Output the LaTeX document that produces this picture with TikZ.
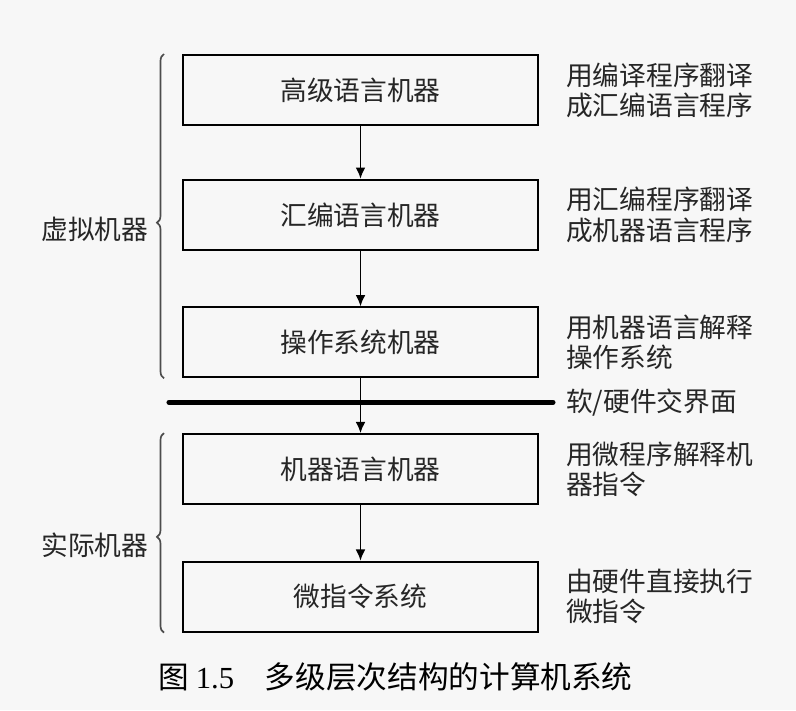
\documentclass[tikz,border=0pt]{standalone}
\usepackage{fontspec}
\newfontfamily\cjkfont{Noto Sans CJK SC}
\newfontfamily\numfont{Liberation Serif}
\usetikzlibrary{arrows.meta,positioning,calc,decorations.pathreplacing}

\begin{document}
\begin{tikzpicture}[
  font=\cjkfont\fontsize{19}{21.5}\selectfont,
  text=black!85,
  level/.style={draw=black, line width=1.4pt, minimum width=8.875cm, minimum height=1.75cm, inner sep=0pt},
  note/.style={align=left, inner sep=0pt},
  arrow/.style={-{Latex[length=8pt,width=7pt]}, line width=1.2pt},
  brace/.style={decorate, decoration={brace, amplitude=5pt, aspect=0.48}, line width=1.2pt, black!70},
  cutline/.style={line width=3.6pt, line cap=round},
]
  \fill[black!3] (0,0) rectangle (19.9,-17.75);
  \useasboundingbox (0,0) rectangle (19.9,-17.75);

  % levels
  \node[level] (hll) at (9.0125,-2.25) {高级语言机器};
  \node[level, below=1.32cm of hll] (asm) {汇编语言机器};
  \node[level, below=1.39cm of asm] (os) {操作系统机器};
  \node[level, below=1.37cm of os] (isa) {机器语言机器};
  \node[level, below=1.39cm of isa] (micro) {微指令系统};

  \draw[arrow] (hll) -- (asm);
  \draw[arrow] (asm) -- (os);
  \draw[arrow] (os) -- (isa);
  \draw[arrow] (isa) -- (micro);

  % notes on the right
  \node[note, right=0.675cm of hll] (n1) {用编译程序翻译\\成汇编语言程序};
  \node[note, right=0.675cm of asm] (n2) {用汇编程序翻译\\成机器语言程序};
  \node[note, right=0.675cm of os] (n3) {用机器语言解释\\操作系统};
  \node[note, right=0.675cm of isa] (n4) {用微程序解释机\\器指令};
  \node[note, right=0.675cm of micro] (n5) {由硬件直接执行\\微指令};

  % software/hardware interface
  \coordinate (cutL) at ([xshift=-0.325cm, yshift=-0.6cm]os.south west);
  \coordinate (cutR) at ([xshift=0.35cm, yshift=-0.6cm]os.south east);
  \draw[cutline] (cutL) -- (cutR);
  \node[note, anchor=west] (iface) at ([xshift=0.675cm, yshift=-0.6cm]os.south east) {软/硬件交界面};

  % braces
  \draw[brace] ([xshift=-0.45cm]os.south west) -- ([xshift=-0.45cm]hll.north west)
    node[pos=0.46, left=0.375cm, inner sep=0pt, text=black!85] (virt) {虚拟机器};
  \draw[brace] ([xshift=-0.45cm]micro.south west) -- ([xshift=-0.45cm]isa.north west)
    node[pos=0.44, left=0.375cm, inner sep=0pt, text=black!85] (real) {实际机器};

  % caption
  \node[below=0.62cm of micro, xshift=0.875cm, text=black, font=\cjkfont\fontsize{21.8}{24}\selectfont] (cap) {图 {\numfont 1.5}\quad 多级层次结构的计算机系统};
\end{tikzpicture}
\end{document}
